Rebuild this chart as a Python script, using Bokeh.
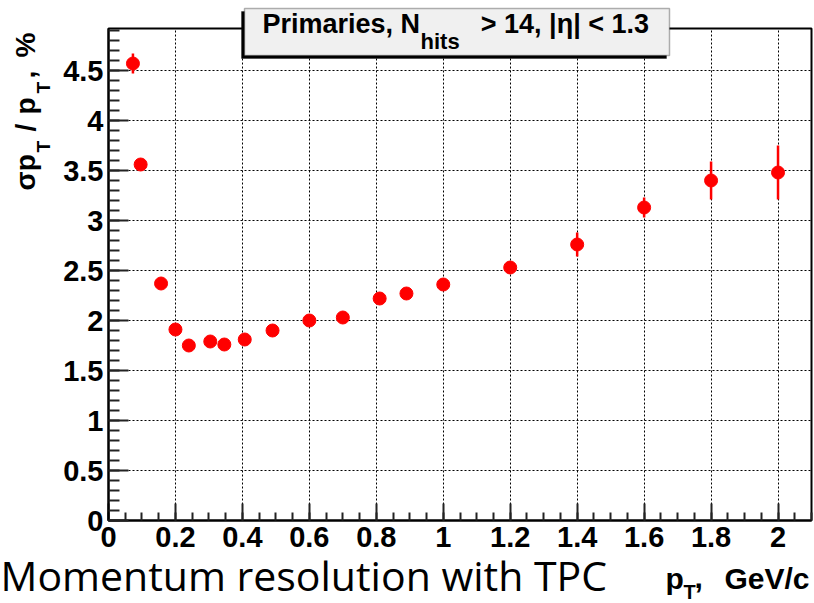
import math

from bokeh.embed import file_html
from bokeh.layouts import column
from bokeh.models import (BoxAnnotation, ColumnDataSource, CustomJSTickFormatter,
                          Label, Range1d, SingleIntervalTicker)
from bokeh.plotting import figure
from bokeh.resources import INLINE

# Relative transverse-momentum resolution of primary tracks vs pT
pt = [0.073, 0.096, 0.157, 0.20, 0.24, 0.304, 0.346, 0.407, 0.49,
      0.60, 0.70, 0.81, 0.89, 1.00, 1.20, 1.40, 1.60, 1.80, 2.00]
resolution = [4.57, 3.56, 2.37, 1.91, 1.75, 1.79, 1.76, 1.81, 1.90,
              2.00, 2.03, 2.22, 2.27, 2.36, 2.53, 2.76, 3.13, 3.40, 3.48]
resolution_err = [0.10, 0.03, 0.03, 0.03, 0.03, 0.03, 0.03, 0.03, 0.03,
                  0.03, 0.03, 0.04, 0.04, 0.05, 0.06, 0.12, 0.10, 0.19, 0.27]

title_main = "Primaries, N"
title_sub = "hits"
title_rest = " > 14, |η| < 1.3"
caption = "Momentum resolution with TPC"

W, H = 814, 603
FRAME_LEFT, FRAME_RIGHT, FRAME_TOP, FRAME_BOTTOM = 108, 811, 28, 520
ROOT_FONT = "Liberation Sans"

src = ColumnDataSource(dict(
    x=pt,
    y=resolution,
    lo=[v - e for v, e in zip(resolution, resolution_err)],
    hi=[v + e for v, e in zip(resolution, resolution_err)],
))

p = figure(width=W, height=H, output_backend="svg", toolbar_location=None,
           x_range=Range1d(0, 2.1), y_range=Range1d(0, 4.92),
           min_border_left=FRAME_LEFT, min_border_right=W - FRAME_RIGHT,
           min_border_top=FRAME_TOP, min_border_bottom=H - FRAME_BOTTOM)
p.background_fill_color = "white"
p.border_fill_color = "white"
p.outline_line_color = "black"
p.outline_line_width = 2

# axes: ROOT-style inward ticks, bold labels
fmt = CustomJSTickFormatter(code="return Number(tick.toFixed(2)).toString();")
p.xaxis.ticker = SingleIntervalTicker(interval=0.2, num_minor_ticks=4)
p.yaxis.ticker = SingleIntervalTicker(interval=0.5, num_minor_ticks=5)
for ax, tin, mtin in ((p.xaxis, 17, 8), (p.yaxis, 20, 11)):
    ax.formatter = fmt
    ax.axis_line_color = "black"
    ax.axis_line_width = 2
    ax.major_tick_in = tin
    ax.major_tick_out = 0
    ax.minor_tick_in = mtin
    ax.minor_tick_out = 0
    ax.major_tick_line_color = "#222222"
    ax.major_tick_line_width = 2
    ax.minor_tick_line_color = "#222222"
    ax.minor_tick_line_width = 2
    ax.major_label_text_font = ROOT_FONT
    ax.major_label_text_font_style = "bold"
    ax.major_label_text_font_size = "29px"
    ax.major_label_text_color = "black"
p.xaxis.major_label_standoff = 6
p.yaxis.major_label_standoff = 5

p.grid.grid_line_color = "black"
p.grid.grid_line_dash = "2 2"
p.grid.grid_line_width = 1

# data points with vertical error bars
p.segment(x0="x", y0="lo", x1="x", y1="hi", source=src, line_color="red", line_width=2.5)
p.scatter(x="x", y="y", source=src, marker="circle", size=13,
          fill_color="red", line_color="red")

# transparent overlay in page-pixel coordinates for titles and captions
ov = figure(width=W, height=H, output_backend="svg", toolbar_location=None,
            x_range=Range1d(0, W), y_range=Range1d(H, 0),
            x_axis_type=None, y_axis_type=None,
            min_border=0, min_border_left=0, min_border_right=0,
            min_border_top=0, min_border_bottom=0)
ov.grid.visible = False
ov.background_fill_alpha = 0
ov.border_fill_alpha = 0
ov.outline_line_color = None

MID = 0.35  # labels are anchored near the cap middle; shift from the baseline


def put(text, px, base, size, align="left", font=ROOT_FONT, style="bold"):
    """Horizontal text with its baseline at page row `base`."""
    ov.add_layout(Label(x=px, y=base - MID * size, text=text,
                        text_font=font, text_font_size=f"{size}px",
                        text_font_style=style, text_align=align,
                        text_baseline="alphabetic", text_color="black"))


def put_up(text, base, py, size):
    """Text reading upward, its baseline at page column `base`, starting at row `py`."""
    ov.add_layout(Label(x=base - MID * size, y=py, text=text,
                        text_font=ROOT_FONT, text_font_size=f"{size}px",
                        text_font_style="bold", text_align="left",
                        text_baseline="alphabetic", angle=math.pi / 2,
                        text_color="black"))


# title pave with shadow
ov.add_layout(BoxAnnotation(left=241, right=666, top=11, bottom=58,
                            fill_color="black", fill_alpha=1, line_color="black"))
ov.add_layout(BoxAnnotation(left=244, right=669, top=8, bottom=55,
                            fill_color="#f0f0f0", fill_alpha=1, line_color="black",
                            line_width=1.5))
put(title_main, 262, 33, 27)
put(title_sub, 420, 49, 22)
put(title_rest, 656, 33, 27, align="right")

# y-axis title: sigma p_T / p_T, %
put_up("σp", 35, 190, 28)
put_up("T", 50, 152, 19)
put_up("/", 35, 131, 28)
put_up("p", 35, 114, 28)
put_up("T", 50, 93, 19)
put_up(",", 35, 78, 28)
put_up("%", 35, 57, 28)

# x-axis title: p_T, GeV/c
put("p", 665, 588, 30)
put("T", 683, 598, 20)
put(",", 694, 588, 30)
put("GeV/c", 809, 588, 30, align="right")

# caption
put(caption, 0, 589, 41, font="Open Sans", style="normal")

# separate wrappers keep the overlay's frame independent of the chart's
page = column(column(p), column(ov, margin=(-H, 0, 0, 0)), spacing=0)
open("out.html", "w").write(file_html(page, INLINE))
